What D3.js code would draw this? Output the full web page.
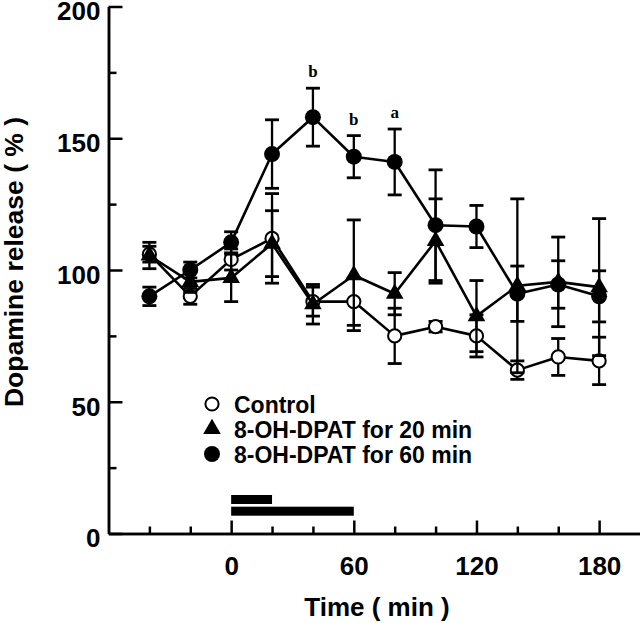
<!DOCTYPE html>
<html>
<head>
<meta charset="utf-8">
<script src="https://cdn.jsdelivr.net/npm/d3@7"></script>
<style>
  html, body { margin: 0; padding: 0; background: #fff; }
  svg { display: block; font-family: "Liberation Sans", Arial, Helvetica, sans-serif; }
</style>
</head>
<body>
<svg id="chart" width="640" height="623"></svg>
<script>
// ---- Data ----
const times = [-40, -20, 0, 20, 40, 60, 80, 100, 120, 140, 160, 180];
const control    = [106, 90, 104, 112, 88, 88, 75, 78.5, 75, 62, 67, 65.5];
const controlErr = [3, 3, 4, 17, 5.5, 9, 10.5, 2, 8, 3.5, 7, 9];
const dpat20     = [105.5, 95.5, 97, 110, 87, 98, 91, 111, 82.5, 94, 95.5, 93.5];
const dpat20Err  = [5, 4, 9, 12.5, 7.5, 21, 8, 16, 13.5, 33, 17, 26];
const dpat60     = [90, 100, 110.5, 144, 158, 143, 141, 117, 116.5, 91, 94.5, 90];
const dpat60Err  = [3.5, 3, 4, 13, 11, 8, 12.5, 21, 8, 10.5, 9, 9.7];
const seriesNames = ["Control", "8-OH-DPAT for 20 min", "8-OH-DPAT for 60 min"];
const sigTimes  = [40, 60, 80];
const sigLabels = ["b", "b", "a"];
const treatStart = [0, 0];
const treatEnd   = [20, 60];
const xMajorTicks = [0, 60, 120, 180];
const xMinorTicks = [-40, -20, 20, 40, 80, 100, 140, 160];
const yMajorTicks = [0, 50, 100, 150, 200];
const yMinorTicks = [25, 75, 125, 175];
const xTitle = "Time ( min )";
const yTitle = "Dopamine release ( % )";

// ---- Setup ----
const svg = d3.select("#chart");
const x = d3.scaleLinear().domain([-60, 200]).range([108.5, 640]);
const y = d3.scaleLinear().domain([0, 200]).range([533.5, 6.5]);
const x0 = x(-60), y0 = y(0);

// ---- Axes ----
const yAxisMajor = d3.axisLeft(y).tickValues(yMajorTicks).tickSize(-14).tickSizeOuter(0).tickPadding(8);
const yAxisMinor = d3.axisLeft(y).tickValues(yMinorTicks).tickSize(-8).tickSizeOuter(0).tickFormat("");
const xAxisMajor = d3.axisBottom(x).tickValues(xMajorTicks).tickSize(-13).tickSizeOuter(0).tickPadding(23);
const xAxisMinor = d3.axisBottom(x).tickValues(xMinorTicks).tickSize(-7).tickSizeOuter(0).tickFormat("");

function styleAxis(g) {
  g.select(".domain").attr("stroke", "#000").attr("stroke-width", 2.5);
  g.selectAll(".tick line").attr("stroke", "#000").attr("stroke-width", 2.5);
  g.selectAll(".tick text").attr("fill", "#000").attr("font-size", 26).attr("font-weight", "bold")
    .attr("font-family", "'Liberation Sans', Arial, sans-serif");
}
svg.append("g").attr("transform", `translate(${x0},0)`).call(yAxisMinor).call(styleAxis);
const gy = svg.append("g").attr("transform", `translate(${x0},0)`).call(yAxisMajor).call(styleAxis);
gy.selectAll(".tick text").attr("dy", "0.32em").attr("y", 5);
svg.append("g").attr("transform", `translate(0,${y0})`).call(xAxisMinor).call(styleAxis);
svg.append("g").attr("transform", `translate(0,${y0})`).call(xAxisMajor).call(styleAxis);

// axis titles
svg.append("text").attr("x", 377).attr("y", 616).attr("text-anchor", "middle")
  .attr("font-size", 26).attr("font-weight", "bold").text(xTitle);
svg.append("text").attr("transform", "translate(23,262) rotate(-90)").attr("text-anchor", "middle")
  .attr("font-size", 26.5).attr("font-weight", "bold").text(yTitle);

// ---- Treatment bars ----
const bars = treatStart.map((s, i) => ({ s, e: treatEnd[i] }));
svg.selectAll("rect.treat").data(bars).join("rect").attr("class", "treat")
  .attr("x", d => x(d.s)).attr("width", d => x(d.e) - x(d.s))
  .attr("y", (d, i) => y0 - 38.5 + i * 11.7).attr("height", 9).attr("fill", "#000");

// ---- Series (drawn control first, so filled markers sit on top) ----
const triangle = d3.symbol().type(d3.symbolTriangle).size(135);
const series = [
  { name: seriesNames[0], vals: control, errs: controlErr, marker: "ocircle" },
  { name: seriesNames[1], vals: dpat20, errs: dpat20Err, marker: "triangle" },
  { name: seriesNames[2], vals: dpat60, errs: dpat60Err, marker: "fcircle" }
];
const line = d3.line().x(d => x(d.t)).y(d => y(d.v));

function drawMarker(g, type, cx, cy) {
  if (type === "fcircle") {
    g.append("circle").attr("cx", cx).attr("cy", cy).attr("r", 8).attr("fill", "#000");
  } else if (type === "ocircle") {
    g.append("circle").attr("cx", cx).attr("cy", cy).attr("r", 6.6)
      .attr("fill", "#fff").attr("stroke", "#000").attr("stroke-width", 2);
  } else {
    g.append("path").attr("d", triangle()).attr("transform", `translate(${cx},${cy})`).attr("fill", "#000");
  }
}

series.forEach(s => {
  const pts = times.map((t, i) => ({ t, v: s.vals[i], e: s.errs[i] }));
  const g = svg.append("g");
  const eb = g.selectAll("g.eb").data(pts).join("g").attr("class", "eb")
    .attr("stroke", "#000").attr("stroke-width", 2.3);
  eb.append("line").attr("x1", d => x(d.t)).attr("x2", d => x(d.t))
    .attr("y1", d => y(d.v + d.e)).attr("y2", d => y(d.v - d.e));
  eb.append("line").attr("x1", d => x(d.t) - 7).attr("x2", d => x(d.t) + 7)
    .attr("y1", d => y(d.v + d.e)).attr("y2", d => y(d.v + d.e)).attr("stroke-width", 2.8);
  eb.append("line").attr("x1", d => x(d.t) - 7).attr("x2", d => x(d.t) + 7)
    .attr("y1", d => y(d.v - d.e)).attr("y2", d => y(d.v - d.e)).attr("stroke-width", 2.8);
  g.append("path").datum(pts).attr("d", line).attr("fill", "none")
    .attr("stroke", "#000").attr("stroke-width", 2.6).attr("stroke-linejoin", "round");
  pts.forEach(d => drawMarker(g, s.marker, x(d.t), y(d.v)));
});

// ---- Significance letters ----
sigTimes.forEach((t, i) => {
  const idx = times.indexOf(t);
  svg.append("text").attr("x", x(t)).attr("y", y(dpat60[idx] + dpat60Err[idx]) - 11)
    .attr("text-anchor", "middle").attr("font-family", "'Liberation Serif', 'Times New Roman', serif")
    .attr("font-weight", "bold").attr("font-size", 17).text(sigLabels[i]);
});

// ---- Legend ----
const legendMarkers = ["ocircle", "triangle", "fcircle"];
const legendRowY = [404, 429, 454];
seriesNames.forEach((name, i) => {
  const g = svg.append("g");
  drawMarker(g, legendMarkers[i], 212, legendRowY[i]);
  g.append("text").attr("x", 234).attr("y", legendRowY[i] + 8.5)
    .attr("font-size", 23).attr("font-weight", "bold").text(name);
});
</script>
</body>
</html>
